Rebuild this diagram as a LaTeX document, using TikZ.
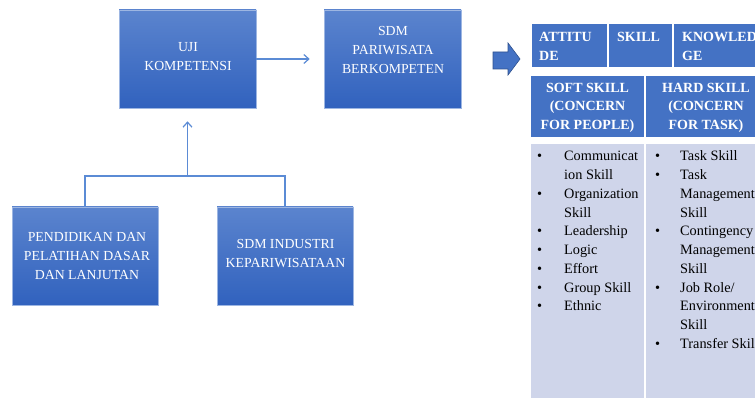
\documentclass[tikz,border=0pt]{standalone}
\usepackage{fontspec}
\setmainfont{Liberation Serif}
\usetikzlibrary{arrows.meta}
\definecolor{boxtop}{HTML}{5B84CE}
\definecolor{boxbot}{HTML}{3162BE}
\definecolor{boxedge}{HTML}{9DB6E2}
\definecolor{cellblue}{HTML}{4472C4}
\definecolor{lav}{HTML}{CFD5EA}
\definecolor{conncol}{HTML}{5B8BD5}
\definecolor{arredge}{HTML}{2F528F}
\tikzset{
  gbox/.style={draw=boxedge, line width=0.6pt, top color=boxtop, bottom color=boxbot, minimum width=137pt, minimum height=98pt, inner sep=0pt},
  boxtext/.style={text=white, inner sep=0pt, font=\fontsize{13.8}{19}\selectfont},
  conn/.style={draw=conncol, line width=1.4pt},
  arr/.style={conn, -{Straight Barb[length=5pt,width=9pt,line width=1.2pt]}},
  cell/.style={fill=cellblue, draw=white, line width=1.5pt},
  lavcell/.style={fill=lav, draw=white, line width=1.5pt},
  hdtext/.style={text=white, inner sep=0pt, font=\fontsize{14}{19}\selectfont\bfseries},
  hd2text/.style={text=white, inner sep=0pt, font=\fontsize{14}{18.5}\selectfont\bfseries},
  listtext/.style={text=black, inner sep=0pt, anchor=north west, font=\fontsize{14.3}{18.75}\selectfont}
}
\begin{document}
\begin{tikzpicture}[x=1pt,y=-1pt]
\useasboundingbox (0,0) rectangle (755,398);
\clip (0,0) rectangle (755,398);
% boxes
\node[gbox] (uji) at (187.5,59) {};
\node[gbox] (sdmp) at (392.5,59) {};
\node[gbox, minimum width=146pt] (pend) at (85,256) {};
\node[gbox, minimum width=136pt] (sdmi) at (285,256) {};
\node[boxtext] (ujit) at (188,57.5) {\begin{tabular}{@{}c@{}}UJI\\KOMPETENSI\end{tabular}};
\node[boxtext] (sdmpt) at (393,51) {\begin{tabular}{@{}c@{}}SDM\\PARIWISATA\\BERKOMPETEN\end{tabular}};
\node[boxtext] (pendt) at (87,257) {\begin{tabular}{@{}c@{}}PENDIDIKAN DAN\\PELATIHAN DASAR\\DAN LANJUTAN\end{tabular}};
\node[boxtext] (sdmit) at (285.5,254) {\begin{tabular}{@{}c@{}}SDM INDUSTRI\\KEPARIWISATAAN\end{tabular}};
% connectors
\coordinate (j) at (187.5,176);
\draw[conn] (pend.north) |- (j) -| (sdmi.north);
\draw[arr, shorten >=13pt] (j) -- (uji.south);
\draw[arr, shorten >=14pt] (uji.east) -- (sdmp.west);
% fat arrow
\fill[cellblue, draw=arredge, line width=0.6pt] (493,52) -- (508,52) -- (508,43) -- (520,59) -- (508,75) -- (508,69) -- (493,69) -- cycle;
% table row 1
\path[cell] (531,23) rectangle (608,68);
\path[cell] (608,23) rectangle (673,68);
\path[cell] (673,23) rectangle (790,68);
% row 2
\path[cell] (530,75) rectangle (645,138);
\path[cell] (645,75) rectangle (790,138);
% row 3
\path[lavcell] (530,143) rectangle (645,405);
\path[lavcell] (645,143) rectangle (790,405);
% header texts
\node[hdtext, anchor=west] (att) at (539,47.5) {\begin{tabular}{@{}l@{}}ATTITU\\DE\end{tabular}};
\node[hdtext, anchor=west] (skl) at (617,38) {\begin{tabular}{@{}l@{}}SKILL\end{tabular}};
\node[hdtext, anchor=west] (knw) at (682,47.5) {\begin{tabular}{@{}l@{}}KNOWLED\\GE\end{tabular}};
\node[hd2text] (soft) at (587.5,107) {\begin{tabular}{@{}c@{}}SOFT SKILL\\(CONCERN\\FOR PEOPLE)\end{tabular}};
\node[hd2text] (hard) at (706,107) {\begin{tabular}{@{}c@{}}HARD SKILL\\(CONCERN\\FOR TASK)\end{tabular}};
% lists
\node[listtext] (softlist) at (537,147.5) {\begin{tabular}{@{}p{27pt}@{}l@{}}
\textbullet & Communicat\\
 & ion Skill\\
\textbullet & Organization\\
 & Skill\\
\textbullet & Leadership\\
\textbullet & Logic\\
\textbullet & Effort\\
\textbullet & Group Skill\\
\textbullet & Ethnic
\end{tabular}};
\node[listtext] (hardlist) at (655,147.5) {\begin{tabular}{@{}p{25pt}@{}l@{}}
\textbullet & Task Skill\\
\textbullet & Task\\
 & Management\\
 & Skill\\
\textbullet & Contingency\\
 & Management\\
 & Skill\\
\textbullet & Job Role/\\
 & Environment\\
 & Skill\\
\textbullet & Transfer Skill
\end{tabular}};
\end{tikzpicture}
\end{document}
